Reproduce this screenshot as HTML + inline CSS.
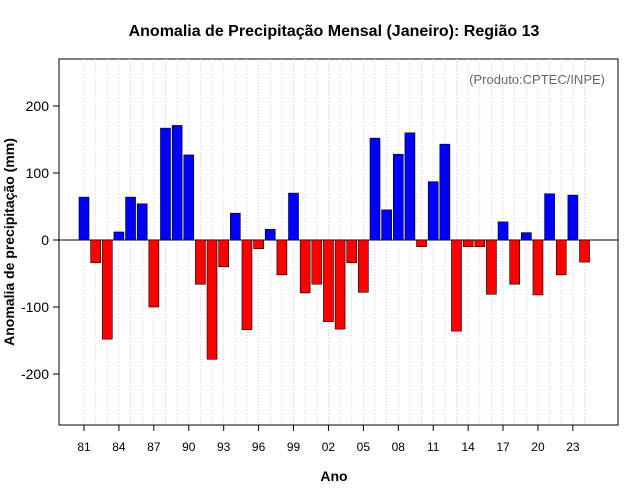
<!DOCTYPE html>
<html><head><meta charset="utf-8"><style>
body{margin:0;background:#fff;}
svg{display:block;font-family:"Liberation Sans",sans-serif;}
</style></head><body>
<svg id="c" width="640" height="500">
<text x="334" y="36" text-anchor="middle" font-size="16" font-weight="bold">Anomalia de Precipitação Mensal (Janeiro): Região 13</text>
<rect x="59" y="59" width="559" height="366" fill="none" stroke="#000"/>
<text x="605" y="84" text-anchor="end" font-size="13" fill="#666">(Produto:CPTEC/INPE)</text>
<text x="334" y="481" text-anchor="middle" font-size="14" font-weight="bold">Ano</text>
<text transform="translate(14,242) rotate(-90)" text-anchor="middle" font-size="14" font-weight="bold">Anomalia de precipitação (mm)</text>
<g id="g"></g>
</svg>
<script>
const years=[1981,1982,1983,1984,1985,1986,1987,1988,1989,1990,1991,1992,1993,1994,1995,1996,1997,1998,1999,2000,2001,2002,2003,2004,2005,2006,2007,2008,2009,2010,2011,2012,2013,2014,2015,2016,2017,2018,2019,2020,2021,2022,2023,2024];
const values=[64,-34,-148,12,64,54,-100,167,171,127,-66,-178,-40,40,-134,-13,16,-52,70,-79,-66,-122,-133,-34,-78,152,45,128,160,-10,87,143,-136,-10,-10,-81,27,-66,11,-82,69,-52,67,-33];
const yTicks=[200,100,0,-100,-200];
const ns="http://www.w3.org/2000/svg";
const g=document.getElementById('g');
const xs=yr=>84+(yr-1981)*11.64;
const ys=v=>240-v*0.67;
function mk(t,a){const e=document.createElementNS(ns,t);for(const k in a)e.setAttribute(k,a[k]);g.appendChild(e);return e;}
years.forEach(yr=>{
 const l=mk('line',{x1:xs(yr),x2:xs(yr),y1:59,y2:425,stroke:'#ccc','stroke-dasharray':'1,2'});
 
 
});
const z=mk('line',{x1:59,x2:618,y1:ys(0),y2:ys(0),stroke:'#000'});


years.forEach((yr,i)=>{
 const v=values[i];
 const r=mk('rect',{x:xs(yr)-5,y:Math.min(ys(v),ys(0)),width:10,height:Math.abs(ys(v)-ys(0)),fill:v>=0?'#0000ff':'#ff0000',stroke:'#000','stroke-width':0.6});
 
 
});
yTicks.forEach(t=>{
 const l=mk('line',{x1:53,x2:59,y1:ys(t),y2:ys(t),stroke:'#000'});
 
 
 const tx=mk('text',{x:49,y:ys(t)+5,'text-anchor':'end','font-size':14});
 tx.textContent=t;
 
 
});
years.forEach((yr,i)=>{
 if(i%3) return;
 const l=mk('line',{x1:xs(yr),x2:xs(yr),y1:425,y2:431,stroke:'#000'});
 
 
 const tx=mk('text',{x:xs(yr),y:451,'text-anchor':'middle','font-size':12});
 tx.textContent=String(yr%100).padStart(2,'0');
 
 
});
</script>
</body></html>
